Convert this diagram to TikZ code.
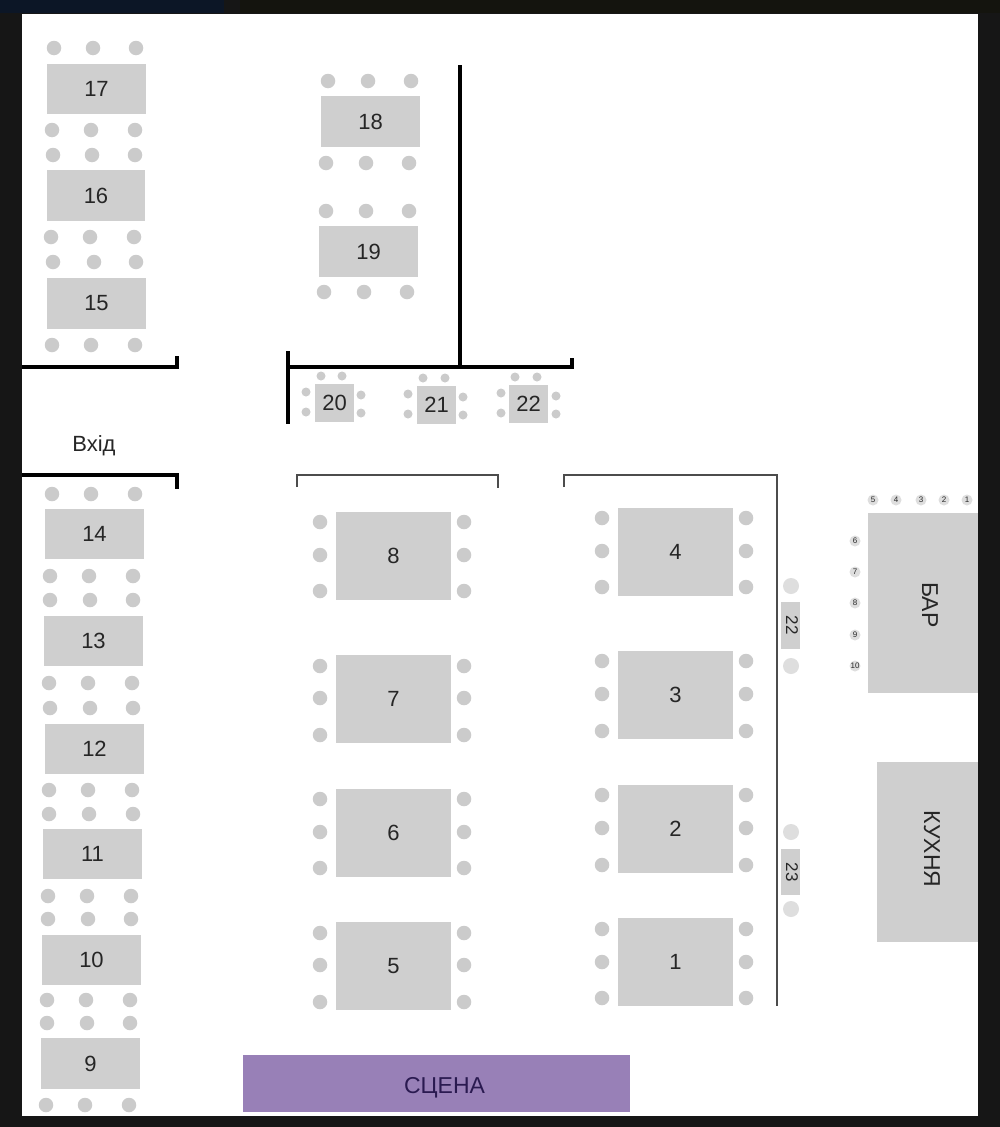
\documentclass[tikz,border=0pt]{standalone}
\usepackage{fontspec}
\setmainfont{Liberation Sans}
\usetikzlibrary{positioning}
\definecolor{tablegray}{HTML}{CFCFCF}
\definecolor{seatgray}{HTML}{CBCBCB}
\definecolor{stagepurple}{HTML}{9880B7}
\definecolor{stagetext}{HTML}{2A1A50}
\definecolor{screendark}{HTML}{161616}
\definecolor{screennavy}{HTML}{0C1626}
\definecolor{screenolive}{HTML}{14140E}
\tikzset{
        treenode/.style={align=center,inner sep=0pt,text=black!85},
        % Tables
        table_plain/.style={treenode, rectangle, fill=tablegray, font=\fontsize{22}{24}\selectfont},
        % Guest seats
        seat_large/.style={treenode, circle, fill=seatgray, minimum size=14.5pt},
        seat_small/.style={treenode, circle, fill=seatgray, minimum size=9pt},
        seat_side/.style={treenode, circle, fill=black!13, minimum size=16pt},
        % Numbered bar seats
        seat_bar/.style={treenode, circle, fill=black!13, minimum size=11pt, font=\fontsize{8}{8}\selectfont},
        % Walls
        wall_thick/.style={draw=black, line width=3.4pt},
        wall_thin/.style={draw=black!70, line width=2pt},
        label_plain/.style={treenode, font=\fontsize{22}{24}\selectfont},
        label_large/.style={treenode, font=\fontsize{23}{24}\selectfont}
}
\begin{document}
\begin{tikzpicture}[x=1pt,y=-1pt]
    \useasboundingbox (0,0) rectangle (1000,1127);
    \fill[screendark] (0,0) rectangle (1000,1127);
    \fill[screennavy] (0,0) rectangle (224,13);
    \fill[screenolive] (240,0) rectangle (1000,13);
    \fill[white] (22,14) rectangle (978,1116);

    % Numbered tables: number, centre, size
    \foreach \num/\cx/\cy/\tw/\th in {
        17/96.5/89/99/50, 16/96/195.5/98/51, 15/96.5/303.5/99/51,
        18/370.5/121.5/99/51, 19/368.5/251.5/99/51,
        14/94.5/534/99/50, 13/93.5/641/99/50, 12/94.5/749/99/50,
        11/92.5/854/99/50, 10/91.5/960/99/50, 9/90.5/1063.5/99/51,
        8/393.5/556/115/88, 7/393.5/699/115/88, 6/393.5/833/115/88, 5/393.5/966/115/88,
        4/675.5/552/115/88, 3/675.5/695/115/88, 2/675.5/829/115/88, 1/675.5/962/115/88,
        20/334.5/403/39/38, 21/436.5/405/39/38, 22/528.5/404/39/38}
        \node[table_plain, minimum width=\tw pt, minimum height=\th pt] (table\num) at (\cx,\cy) {\num};

    % Rows of seats above and below the long tables
    \foreach \ry/\xa/\xb/\xc in {
        48/54/93/136, 130/52/91/135, 155/53/92/135, 237/51/90/134,
        262/53/94/136, 345/52/91/135, 494/52/91/135, 576/50/89/133,
        600/50/90/133, 683/49/88/132, 708/50/90/133, 790/49/88/132,
        814/49/89/133, 896/48/87/131, 919/48/88/131, 1000/47/86/130,
        1023/47/87/130, 1105/46/85/129,
        81/328/368/411, 163/326/366/409, 211/326/366/409, 292/324/364/407}
        \foreach \sx in {\xa,\xb,\xc}
            \node[seat_large] (seat-\sx-\ry) at (\sx,\ry) {};

    % Seats on both sides of the big tables
    \foreach \lx/\ya/\yb/\yc in {
        320/522/555/591, 320/666/698/735, 320/799/832/868, 320/933/965/1002,
        602/518/551/587, 602/661/694/731, 602/795/828/865, 602/929/962/998}
        \foreach \sy in {\ya,\yb,\yc} {
            \node[seat_large] (seatl-\lx-\sy) at (\lx,\sy) {};
            \node[seat_large] (seatr-\lx-\sy) at (\lx+144,\sy) {};
        }

    % Small tables
    \foreach \sx/\sy in {
        321/376, 342/376, 306/392, 306/412, 361/395, 361/413,
        423/378, 445/378, 408/394, 408/414, 463/397, 463/415,
        515/377, 537/377, 501/393, 501/413, 556/396, 556/414}
        \node[seat_small] (seat-\sx-\sy) at (\sx,\sy) {};

    % Tables along the wall
    \node[table_plain, minimum width=19pt, minimum height=47pt] (side22) at (790.5,625.5) {};
    \node[table_plain, minimum width=19pt, minimum height=46pt] (side23) at (790.5,872) {};
    \node[treenode, rotate=-90, font=\fontsize{17}{18}\selectfont] (side22text) at (792,625) {22};
    \node[treenode, rotate=-90, font=\fontsize{17}{18}\selectfont] (side23text) at (792,872) {23};
    \node[seat_side] (side22a) at (791,586) {};
    \node[seat_side] (side22b) at (791,666) {};
    \node[seat_side] (side23a) at (791,832) {};
    \node[seat_side] (side23b) at (791,909) {};

    % Bar and kitchen
    \node[table_plain, minimum width=110pt, minimum height=180pt] (bar) at (923,603) {};
    \node[table_plain, minimum width=101pt, minimum height=180pt] (kitchen) at (927.5,852) {};
    \node[label_large, rotate=-90] (bartext) at (930,605) {БАР};
    \node[label_large, rotate=-90] (kitchentext) at (932,849) {КУХНЯ};
    \foreach \num/\sx in {5/873, 4/896, 3/921, 2/944, 1/967}
        \node[seat_bar] (barseat\num) at (\sx,500) {\num};
    \foreach \num/\sy in {6/541, 7/572, 8/603, 9/635, 10/666}
        \node[seat_bar] (barseat\num) at (855,\sy) {\num};

    \node[treenode, fill=stagepurple, minimum width=387pt, minimum height=57pt] (stage) at (436.5,1083.5) {};
    \node[label_large, text=stagetext] (stagetext) at (444.5,1088) {СЦЕНА};
    \node[label_plain] (entrance) at (94,446) {Вхід};

    % Walls
    \draw[wall_thick] (22,367) -- (177,367) -- (177,356);
    \draw[wall_thick] (22,475) -- (177,475) -- (177,489);
    \draw[wall_thick] (288,351) -- (288,424);
    \draw[wall_thick] (288,367) -- (572,367) -- (572,358);
    \draw[wall_thick] (460,65) -- (460,367);
    \draw[wall_thin] (297,487) -- (297,475) -- (498,475) -- (498,488);
    \draw[wall_thin] (564,487) -- (564,475) -- (777,475) -- (777,1006);
\end{tikzpicture}
\end{document}
